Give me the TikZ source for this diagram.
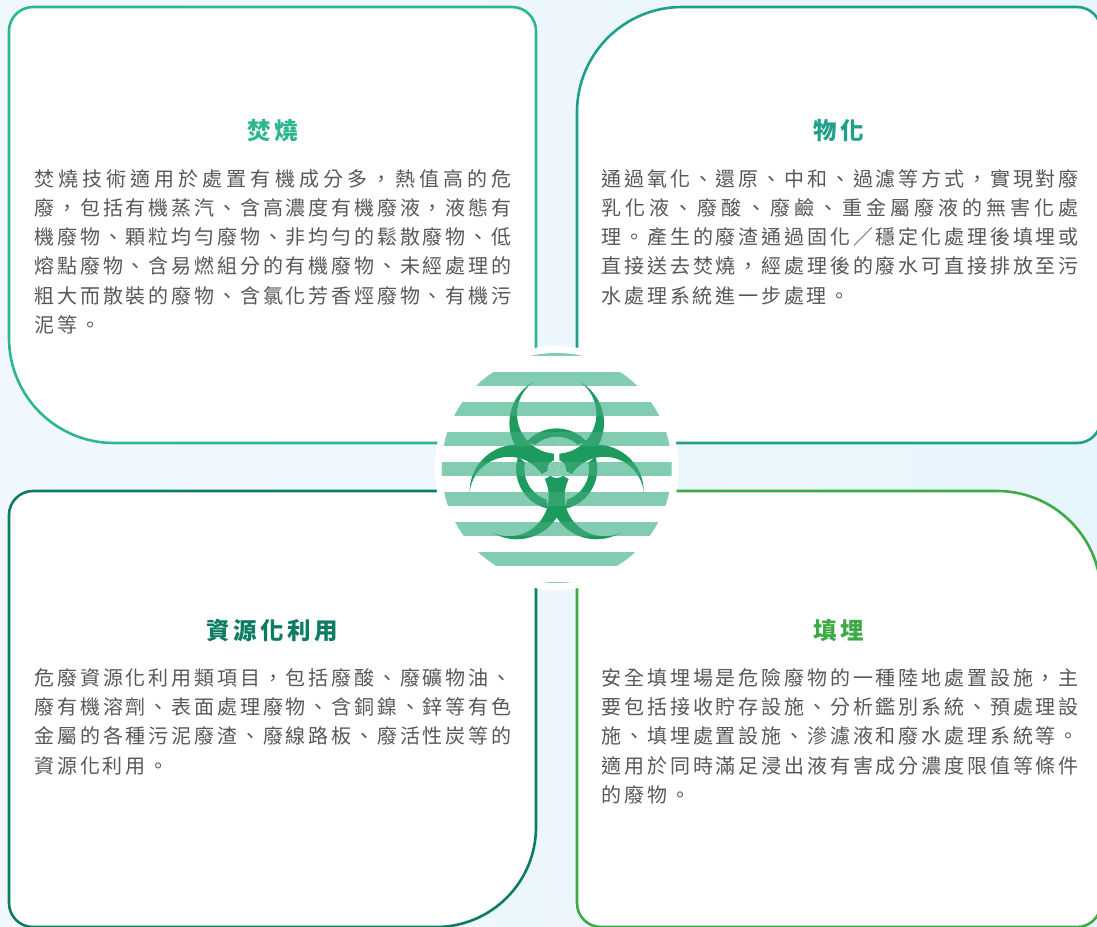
\documentclass[tikz,border=0pt]{standalone}
\usepackage{fontspec}
\setmainfont{Noto Sans CJK TC}
\usetikzlibrary{calc}
\definecolor{bgL}{HTML}{F1F8FD}
\definecolor{bgR}{HTML}{E7F5FC}
\definecolor{cA}{HTML}{2DB690}
\definecolor{cB}{HTML}{1FA189}
\definecolor{cC}{HTML}{0E7C62}
\definecolor{cD}{HTML}{3DAA46}
\definecolor{stripe}{HTML}{82CCB2}
\definecolor{bio}{HTML}{1D9A5D}
\definecolor{txt}{HTML}{585858}
\newlength\bodyW
\setlength\bodyW{477pt}
\def\spreadA#1{#1\spreadB}
\def\spreadB#1{\ifx\relax#1\else\hfil#1\expandafter\spreadB\fi}
\def\spreadD#1{#1\spreadC}
\def\spreadC#1{\ifx\relax#1\else\kern\cjkgap#1\expandafter\spreadC\fi}
\newcommand\JLine[1]{\hbox to \bodyW{\spreadA#1\relax}}
\newcommand\NLine[2][2.8pt]{\def\cjkgap{#1}\hbox{\spreadD#2\relax}}
\newcommand\bgpaint{\fill[white] (-130,-130) rectangle (130,130);
  \foreach \k in {-4,...,4}{\fill[stripe] (-130,{-0.3+30*\k-7}) rectangle (130,{-0.3+30*\k+7});}}
\begin{document}
\begin{tikzpicture}[x=1pt,y=-1pt,
  boxline/.style={line width=2.6pt, fill=white, line join=round},
  ttl/.style={inner sep=0pt, font=\fontsize{23.5}{26}\selectfont\bfseries, text height=19.4pt, text depth=1.5pt},
  body/.style={inner sep=0pt, anchor=west, text=txt, font=\fontsize{20}{23}\selectfont, text height=16.6pt, text depth=1.4pt}]
\useasboundingbox (0,0) rectangle (1097,926);
\clip (0,0) rectangle (1097,926);
\shade[left color=bgL, right color=bgR] (0,0) rectangle (1097,926);

% boxes
\draw[boxline, draw=cA] (33,7) -- (512,7) arc[start angle=270, end angle=360, radius=24] -- (536,443) -- (114,443) arc[start angle=90, end angle=180, radius=105] -- (9,31) arc[start angle=180, end angle=270, radius=24] -- cycle;
\draw[boxline, draw=cB] (682,7) -- (1077,7) arc[start angle=270, end angle=360, radius=24] -- (1101,419) arc[start angle=0, end angle=90, radius=24] -- (577,443) -- (577,112) arc[start angle=180, end angle=270, radius=105] -- cycle;
\draw[boxline, draw=cC] (33,491) -- (536,491) -- (536,827) arc[start angle=0, end angle=90, radius=100] -- (33,927) arc[start angle=90, end angle=180, radius=24] -- (9,515) arc[start angle=180, end angle=270, radius=24] -- cycle;
\draw[boxline, draw=cD] (577,491) -- (997,491) arc[start angle=270, end angle=360, radius=104] -- (1101,903) arc[start angle=0, end angle=90, radius=24] -- (601,927) arc[start angle=90, end angle=180, radius=24] -- cycle;

% central emblem
\fill[white] (556.7,468) circle (122);
\begin{scope}
  \clip (556.7,468) circle (115);
  \foreach \k in {-4,...,4}{\fill[stripe] (430,{468.7+30*\k-7}) rectangle (690,{468.7+30*\k+7});}
\end{scope}
\begin{scope}[shift={(556.7,469)}]
  \foreach \a in {270,30,150}{
    \begin{scope}[even odd rule]
      \clip (-200,-200) rectangle (200,200) (\a:55) circle (39.7);
      \fill[bio] (\a:46) circle (47.3);
    \end{scope}
  }
  \foreach \a/\b/\c in {270/30/150, 30/150/270, 150/270/30}{
    \begin{scope}[even odd rule]
      \clip (\a:55) circle (39.7);
      \clip (-200,-200) rectangle (200,200) (\b:46) circle (50.8);
      \clip (-200,-200) rectangle (200,200) (\c:46) circle (50.8);
      \fill[bio] (0,0) circle (40.6) (0,0) circle (32.3);
    \end{scope}
  }
  \begin{scope}\clip (0,0) circle (9); \bgpaint \end{scope}
  \foreach \a in {270,30,150}{
    \begin{scope}
      \clip ({\a+90}:2.65) -- ({\a+5.82}:26.13) -- ({\a-5.82}:26.13) -- ({\a-90}:2.65) -- cycle;
      \bgpaint
    \end{scope}
  }
  \begin{scope}
    \clip (0,-1) circle (115);
    \foreach \k in {-4,...,4}{\fill[stripe, opacity=0.22] (-130,{-0.3+30*\k-7}) rectangle (130,{-0.3+30*\k+7});}
  \end{scope}
\end{scope}

% titles
\node[ttl, text=cA] (t1) at (272.5,131) {\NLine[3.5pt]{焚燒}};
\node[ttl, text=cB] (t2) at (839,131) {\NLine[3.5pt]{物化}};
\node[ttl, text=cC] (t3) at (272.5,631) {\NLine[3.5pt]{資源化利用}};
\node[ttl, text=cD] (t4) at (839,631) {\NLine[3.5pt]{填埋}};

% box 1 text
\node[body] (a1) at (34.3,178.4) {\JLine{焚燒技術適用於處置有機成分多，熱值高的危}};
\node[body] (a2) at (34.3,207.7) {\JLine{廢，包括有機蒸汽、含高濃度有機廢液，液態有}};
\node[body] (a3) at (34.3,237.0) {\JLine{機廢物、顆粒均勻廢物、非均勻的鬆散廢物、低}};
\node[body] (a4) at (34.3,266.3) {\JLine{熔點廢物、含易燃組分的有機廢物、未經處理的}};
\node[body] (a5) at (34.3,295.6) {\JLine{粗大而散裝的廢物、含氯化芳香烴廢物、有機污}};
\node[body] (a6) at (34.3,324.9) {\NLine{泥等。}};

% box 2 text
\node[body] (b1) at (601.5,178.4) {\JLine{通過氧化、還原、中和、過濾等方式，實現對廢}};
\node[body] (b2) at (601.5,207.7) {\JLine{乳化液、廢酸、廢鹼、重金屬廢液的無害化處}};
\node[body] (b3) at (601.5,237.0) {\JLine{理。產生的廢渣通過固化／穩定化處理後填埋或}};
\node[body] (b4) at (601.5,266.3) {\JLine{直接送去焚燒，經處理後的廢水可直接排放至污}};
\node[body] (b5) at (601.5,295.6) {\NLine{水處理系統進一步處理。}};

% box 3 text
\node[body] (c1) at (34.3,677.5) {\JLine{危廢資源化利用類項目，包括廢酸、廢礦物油、}};
\node[body] (c2) at (34.3,706.8) {\JLine{廢有機溶劑、表面處理廢物、含銅鎳、鋅等有色}};
\node[body] (c3) at (34.3,736.1) {\JLine{金屬的各種污泥廢渣、廢線路板、廢活性炭等的}};
\node[body] (c4) at (34.3,765.4) {\NLine{資源化利用。}};

% box 4 text
\node[body] (d1) at (601.5,677.5) {\JLine{安全填埋場是危險廢物的一種陸地處置設施，主}};
\node[body] (d2) at (601.5,706.8) {\JLine{要包括接收貯存設施、分析鑑別系統、預處理設}};
\node[body] (d3) at (601.5,736.1) {\JLine{施、填埋處置設施、滲濾液和廢水處理系統等。}};
\node[body] (d4) at (601.5,765.4) {\JLine{適用於同時滿足浸出液有害成分濃度限值等條件}};
\node[body] (d5) at (601.5,794.7) {\NLine{的廢物。}};
\end{tikzpicture}
\end{document}
